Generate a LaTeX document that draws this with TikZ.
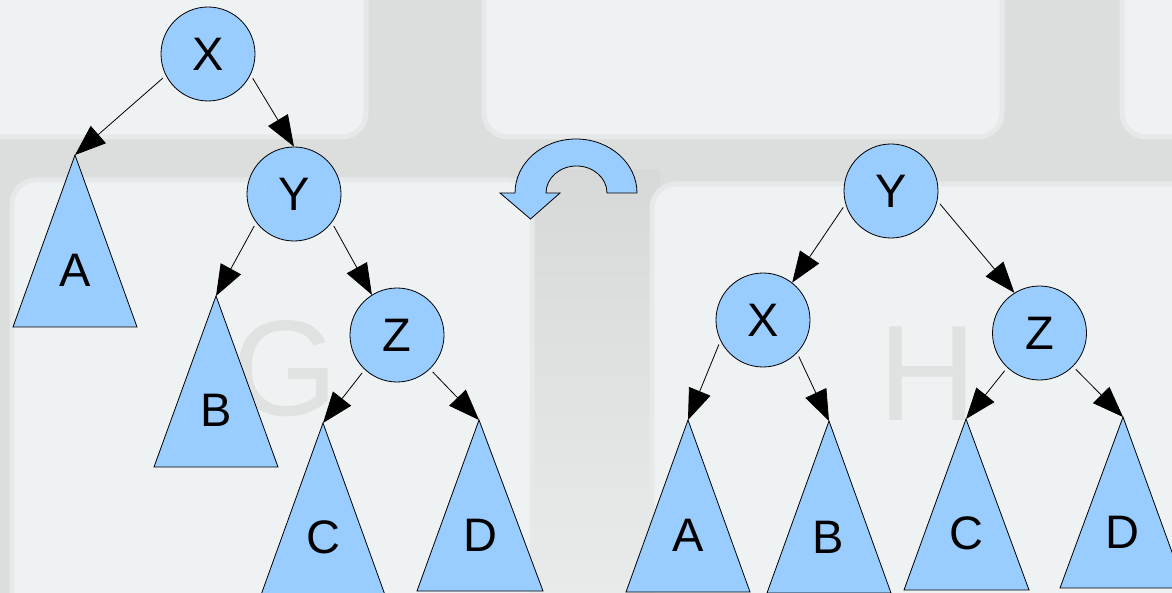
\documentclass[tikz,border=0pt]{standalone}
\usepackage{fontspec}
\setmainfont{Liberation Sans}
\usetikzlibrary{arrows.meta}
\definecolor{nodeblue}{HTML}{99CCFF}
\definecolor{keytop}{HTML}{EFF2F2}
\definecolor{keyrim}{HTML}{E6E9E9}
\definecolor{gapgray}{HTML}{DCDEDE}
\definecolor{gapdark}{HTML}{D7D9D9}
\definecolor{gaplight}{HTML}{E9EBEB}
\definecolor{keyletter}{HTML}{E0E2E2}
\begin{document}
\begin{tikzpicture}[x=1pt,y=-1pt,
  treenode/.style={circle,draw=black,line width=0.8pt,fill=nodeblue,minimum size=94pt,inner sep=0pt,font=\fontsize{47}{50}\selectfont},
  subtree/.style={draw=black,line width=0.8pt,fill=nodeblue,line join=miter},
  sublabel/.style={font=\fontsize{47}{50}\selectfont,inner sep=0pt},
  edge/.style={draw=black,line width=0.8pt,-{Triangle[length=31pt,width=23pt]},shorten <=4pt},
  key/.style={fill=keytop,draw=keyrim,line width=5pt,rounded corners=24pt},
  keychar/.style={text=keyletter,font=\fontsize{136}{136}\selectfont,inner sep=0pt}]
\useasboundingbox (0,0) rectangle (1172,593);
\clip (0,0) rectangle (1172,593);
% background keyboard
\fill[gapgray] (0,0) rectangle (1172,593);
\shade[top color=gapdark,bottom color=gaplight] (525,170) rectangle (660,593);
\path[key] (-30,-30) rectangle (366,137);
\path[key] (484,-30) rectangle (1002,137);
\path[key] (1122,-30) rectangle (1230,137);
\path[key] (12,180) rectangle (532,640);
\path[key] (652,184) rectangle (1230,640);
\node[keychar] (keyG) at (285,369) {G};
\node[keychar] (keyH) at (928,374) {H};

% ---------- left tree ----------
\node[treenode] (X1) at (208,54) {X};
\node[treenode] (Y1) at (294,194) {Y};
\node[treenode] (Z1) at (397,335) {Z};
\coordinate (A1) at (75,155);
\coordinate (B1) at (216,296);
\coordinate (C1) at (323,423);
\coordinate (D1) at (479,420);
\filldraw[subtree] (A1) -- (137,327) -- (13,327) -- cycle;
\filldraw[subtree] (B1) -- (278,467) -- (154,467) -- cycle;
\filldraw[subtree] (C1) -- (385,595) -- (261,595) -- cycle;
\filldraw[subtree] (D1) -- (543,591) -- (417,591) -- cycle;
\node[sublabel] (A1l) at (75,270) {A};
\node[sublabel] (B1l) at (216,410) {B};
\node[sublabel] (C1l) at (323,537) {C};
\node[sublabel] (D1l) at (480,535) {D};
\draw[edge] (X1.207) -- (A1);
\draw[edge] (X1.334) -- (Y1.north);
\draw[edge] (Y1.217) -- (B1);
\draw[edge] (Y1.323) -- (Z1.122);
\draw[edge] (Z1.227) -- (C1);
\draw[edge] (Z1.314) -- (D1);

% ---------- rotation arrow ----------
\filldraw[subtree] (637,193) arc[start angle=0,end angle=-180,x radius=61,y radius=54]
  -- (500,193) -- (530.5,219) -- (560,193) -- (546,193)
  arc[start angle=180,end angle=360,x radius=30.5,y radius=27] -- cycle;

% ---------- right tree ----------
\node[treenode] (Y2) at (891,191) {Y};
\node[treenode] (X2) at (763,320) {X};
\node[treenode] (Z2) at (1039.5,333) {Z};
\coordinate (A2) at (688,420);
\coordinate (B2) at (829,421);
\coordinate (C2) at (966,419);
\coordinate (D2) at (1123,417);
\filldraw[subtree] (A2) -- (750,592) -- (626,592) -- cycle;
\filldraw[subtree] (B2) -- (891,593) -- (767,593) -- cycle;
\filldraw[subtree] (C2) -- (1029,590) -- (904,590) -- cycle;
\filldraw[subtree] (D2) -- (1185,588) -- (1060,588) -- cycle;
\node[sublabel] (A2l) at (688,535) {A};
\node[sublabel] (B2l) at (828,537) {B};
\node[sublabel] (C2l) at (966,533) {C};
\node[sublabel] (D2l) at (1122,532) {D};
\draw[edge] (Y2.196) -- (X2.52);
\draw[edge] (Y2.348) -- (Z2.122);
\draw[edge] (X2.206) -- (A2);
\draw[edge] (X2.316) -- (B2);
\draw[edge] (Z2.227) -- (C2);
\draw[edge] (Z2.315) -- (D2);
\end{tikzpicture}
\end{document}
